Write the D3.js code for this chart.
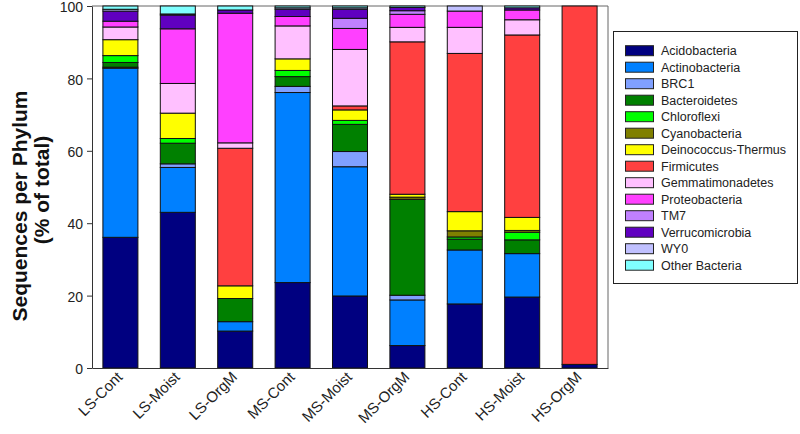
<!DOCTYPE html>
<html><head><meta charset="utf-8">
<script src="https://cdn.jsdelivr.net/npm/d3@7"></script>
<style>body{margin:0;background:#fff}text{font-family:"Liberation Sans",Arial,sans-serif}</style>
</head><body><svg id="c" width="800" height="434"></svg>
<script>
const samples = ["LS-Cont","LS-Moist","LS-OrgM","MS-Cont","MS-Moist","MS-OrgM","HS-Cont","HS-Moist","HS-OrgM"];
const phyla = ["Acidobacteria","Actinobacteria","BRC1","Bacteroidetes","Chloroflexi","Cyanobacteria","Deinococcus-Thermus","Firmicutes","Gemmatimonadetes","Proteobacteria","TM7","Verrucomicrobia","WY0","Other Bacteria"];
const colors = ["#000080","#0080ff","#80a0ff","#008000","#00ff00","#808000","#ffff00","#ff4040","#ffc0ff","#ff40ff","#c080ff","#6000c0","#c0c0ff","#80ffff"];
const acidobacteria    = [36.1,43.0,10.2,23.6,19.9, 6.2,17.7,19.6, 1.0];
const actinobacteria   = [46.7,12.4, 2.6,52.5,35.7,12.6,14.9,12.0, 0];
const brc1             = [ 0.3, 1.0, 0,   1.7, 4.2, 1.3, 0,   0,   0];
const bacteroidetes    = [ 1.3, 5.7, 6.4, 2.7, 7.5,26.5, 3.0, 3.8, 0];
const chloroflexi      = [ 1.9, 1.3, 0,   1.7, 1.1, 0,   0.6, 2.1, 0];
const cyanobacteria    = [ 0,   0,   0,   0,   0,   0.6, 1.7, 0.5, 0];
const deinococcus      = [ 4.4, 7.0, 3.5, 3.2, 2.9, 0.8, 5.3, 3.6, 0];
const firmicutes       = [ 0,   0,  38.0, 0,   1.1,42.1,43.7,50.4,99.0];
const gemmatimonadetes = [ 3.5, 8.2, 1.5, 9.1,15.6, 4.0, 7.2, 4.2, 0];
const proteobacteria   = [ 1.6,15.1,35.8, 2.6, 5.8, 3.6, 4.5, 2.7, 0];
const tm7              = [ 0,   0,   0,   0,   2.8, 1.0, 0,   0,   0];
const verrucomicrobia  = [ 2.8, 3.8, 0.9, 2.0, 2.5, 0.9, 0,   0.6, 0];
const wy0              = [ 0.5, 0.3, 0,   0.4, 0.4, 0,   1.4, 0,   0];
const otherBacteria    = [ 0.9, 2.2, 1.1, 0.5, 0.5, 0.4, 0,   0.5, 0];
const series = [acidobacteria,actinobacteria,brc1,bacteroidetes,chloroflexi,cyanobacteria,deinococcus,firmicutes,gemmatimonadetes,proteobacteria,tm7,verrucomicrobia,wy0,otherBacteria];
const yTicks = [0,20,40,60,80,100];

const rows = samples.map((s,i)=>{const r={sample:s}; phyla.forEach((p,j)=>r[p]=series[j][i]); return r;});
const svg = d3.select("#c");
const L=92,R=608,T=6,B=368;
const x = d3.scaleBand().domain(samples).range([L,R]).paddingInner(0.39).paddingOuter(0.19);
const y = d3.scaleLinear().domain([0,100]).range([B,T]);
const color = d3.scaleOrdinal().domain(phyla).range(colors);
const stack = d3.stack().keys(phyla)(rows);

// frame
svg.append("path").attr("d",`M${L},${T}H${R}V${B}`).attr("fill","none").attr("stroke","#666").attr("stroke-width",1);

const g = svg.append("g");
stack.forEach(layer=>{
  g.selectAll(null).data(layer.filter(d=>d[1]-d[0]>0)).join("rect")
    .attr("x",d=>x(d.data.sample)).attr("width",x.bandwidth())
    .attr("y",d=>y(d[1])).attr("height",d=>y(d[0])-y(d[1]))
    .attr("fill",color(layer.key)).attr("stroke","#111").attr("stroke-width",1);
});

const ya = svg.append("g").attr("transform",`translate(${L},0)`)
  .call(d3.axisLeft(y).tickValues(yTicks).tickSize(5).tickSizeOuter(0).tickPadding(4));
ya.selectAll("text").style("font-size","14px").attr("fill","#222").attr("dy","0.4em");
ya.selectAll("line,path").attr("stroke","#333");

const xa = svg.append("g").attr("transform",`translate(0,${B})`)
  .call(d3.axisBottom(x).tickSize(0).tickSizeOuter(0));
xa.select("path").attr("stroke","#333");
xa.selectAll("text").style("font-size","15px").attr("fill","#222")
  .attr("text-anchor","end").attr("dy",null).attr("y",null)
  .attr("transform","translate(3,10) rotate(-45)");

svg.append("text").attr("transform","translate(27,206) rotate(-90)").attr("text-anchor","middle")
  .style("font-size","21px").style("font-weight","bold").attr("fill","#111").text("Sequences per Phylum");
svg.append("text").attr("transform","translate(49,190) rotate(-90)").attr("text-anchor","middle")
  .style("font-size","21px").style("font-weight","bold").attr("fill","#111").text("(% of total)");

// legend
const lg = svg.append("g");
lg.append("rect").attr("x",613.5).attr("y",31.5).attr("width",184).attr("height",252).attr("fill","#fff").attr("stroke","#222");
phyla.forEach((p,i)=>{
  const cy = 50.7 + i*16.5;
  lg.append("rect").attr("x",625.5).attr("y",cy-5).attr("width",28).attr("height",10).attr("fill",color(p)).attr("stroke","#222");
  lg.append("text").attr("x",661).attr("y",cy+4.5).style("font-size","12.5px").attr("fill","#222").text(p);
});
</script></body></html>
